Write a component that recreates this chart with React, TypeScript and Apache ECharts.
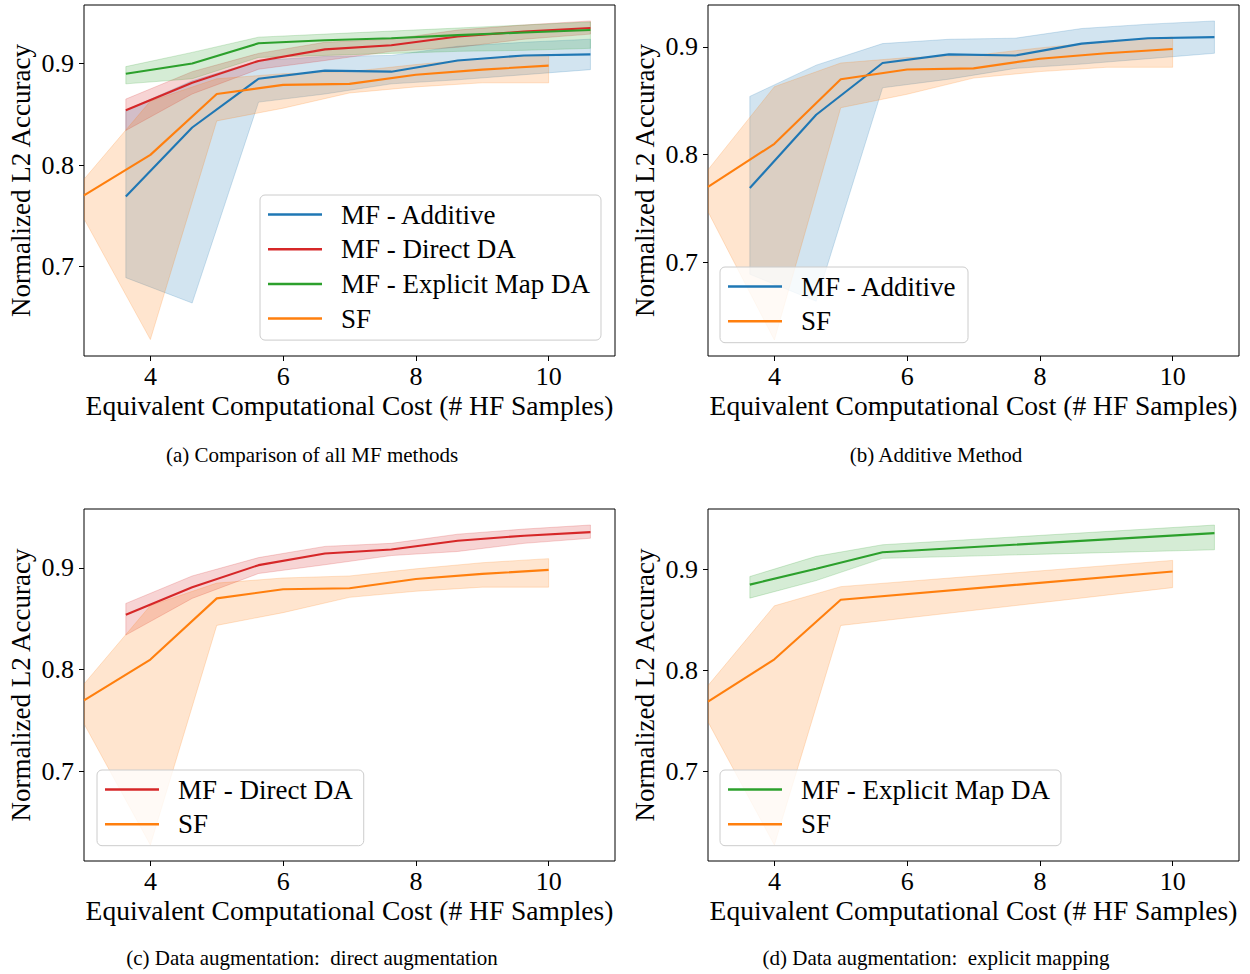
import React, { useEffect, useRef } from "react";
import * as echarts from "echarts";

// ---------- data ----------
const sfX = [3, 4, 5, 6, 7, 8, 9, 10];
const sfMean = [0.770, 0.810, 0.870, 0.879, 0.880, 0.889, 0.894, 0.898];
const sfUpper = [0.786, 0.863, 0.885, 0.890, 0.892, 0.899, 0.905, 0.909];
const sfLower = [0.747, 0.628, 0.8435, 0.856, 0.871, 0.877, 0.881, 0.881];

const mfX = [3.63, 4.63, 5.63, 6.63, 7.63, 8.63, 9.63, 10.63];
const addMean = [0.769, 0.837, 0.885, 0.893, 0.892, 0.903, 0.908, 0.909];
const addUpper = [0.854, 0.883, 0.903, 0.907, 0.908, 0.917, 0.921, 0.924];
const addLower = [0.689, 0.664, 0.862, 0.870, 0.880, 0.884, 0.889, 0.894];

const dirMean = [0.854, 0.881, 0.9026, 0.914, 0.918, 0.9266, 0.9315, 0.935];
const dirUpper = [0.865, 0.892, 0.910, 0.921, 0.924, 0.933, 0.938, 0.942];
const dirLower = [0.834, 0.870, 0.8944, 0.903, 0.912, 0.916, 0.924, 0.929];

const expMean = [0.890, 0.900, 0.920, 0.923, 0.925, 0.928, 0.9306, 0.933];
const expUpper = [0.897, 0.911, 0.926, 0.929, 0.932, 0.935, 0.938, 0.941];
const expLower = [0.880, 0.885, 0.906, 0.908, 0.910, 0.912, 0.913, 0.915];

// panel (d) runs
const mfXd = [3.63, 4.63, 5.63, 10.63];
const expMeanD = [0.885, 0.9007, 0.917, 0.936];
const expUpperD = [0.893, 0.913, 0.9245, 0.944];
const expLowerD = [0.8716, 0.889, 0.911, 0.9195];

const sfXd = [3, 4, 5, 10];
const sfMeanD = [0.769, 0.811, 0.870, 0.898];
const sfUpperD = [0.785, 0.864, 0.883, 0.909];
const sfLowerD = [0.749, 0.627, 0.8445, 0.882];

const xTicks = [4, 6, 8, 10];
const yTicks = [0.7, 0.8, 0.9];
const yRanges = [
  [0.6118, 0.9577],
  [0.6132, 0.9388],
  [0.6123, 0.9577],
  [0.6112, 0.9599],
];
const captions = [
  "(a) Comparison of all MF methods",
  "(b) Additive Method",
  "(c) Data augmentation:  direct augmentation",
  "(d) Data augmentation:  explicit mapping",
];

const NAME_ADD = "MF - Additive";
const NAME_DIR = "MF - Direct DA";
const NAME_EXP = "MF - Explicit Map DA";
const NAME_SF = "SF";

const C_BLUE = "#1f77b4";
const C_ORANGE = "#ff7f0e";
const C_GREEN = "#2ca02c";
const C_RED = "#d62728";

const FONT = "'Liberation Serif', 'Times New Roman', serif";

function rgba(hex: string, a: number) {
  const r = parseInt(hex.slice(1, 3), 16);
  const g = parseInt(hex.slice(3, 5), 16);
  const b = parseInt(hex.slice(5, 7), 16);
  return `rgba(${r},${g},${b},${a})`;
}

function band(xs: number[], lo: number[], hi: number[], color: string, gi: number): any {
  return {
    type: "custom",
    name: "band",
    xAxisIndex: gi,
    yAxisIndex: gi,
    silent: true,
    clip: true,
    z: 1,
    data: xs.map((x, i) => [x, lo[i], hi[i]]),
    encode: { x: 0, y: [1, 2] },
    renderItem: (params: any, api: any) => {
      if (params.dataIndex !== 0) return null;
      const pts: number[][] = [];
      for (let i = 0; i < xs.length; i++) pts.push(api.coord([xs[i], hi[i]]));
      for (let i = xs.length - 1; i >= 0; i--) pts.push(api.coord([xs[i], lo[i]]));
      return {
        type: "polygon",
        shape: { points: pts },
        style: { fill: rgba(color, 0.2), stroke: rgba(color, 0.2), lineWidth: 1 },
      };
    },
  };
}

function line(name: string, xs: number[], ys: number[], color: string, gi: number): any {
  return {
    type: "line",
    name,
    xAxisIndex: gi,
    yAxisIndex: gi,
    data: xs.map((x, i) => [x, ys[i]]),
    showSymbol: false,
    symbol: "none",
    color,
    lineStyle: { color, width: 2.1 },
    z: 3,
  };
}

const grids = [
  { left: 84, top: 5, width: 531, height: 351 },
  { left: 708, top: 5, width: 531, height: 351 },
  { left: 84, top: 509, width: 531, height: 352 },
  { left: 708, top: 509, width: 531, height: 352 },
];

function legend(left: number, top: number, names: string[]): any {
  return {
    left,
    top,
    orient: "vertical",
    data: names,
    icon: "rect",
    itemWidth: 54,
    itemHeight: 2.5,
    itemGap: 7.7,
    selectedMode: false,
    backgroundColor: "rgba(255,255,255,0.8)",
    borderColor: "#cccccc",
    borderWidth: 1,
    borderRadius: 5,
    padding: [6, 11, 8, 8],
    textStyle: {
      fontFamily: FONT,
      fontSize: 27,
      lineHeight: 26,
      color: "#000",
      padding: [0, 0, 0, 14],
    },
  };
}

export default function App() {
  const ref = useRef<HTMLDivElement>(null);
  useEffect(() => {
    if (!ref.current) return;
    document.body.style.margin = "0";
    const chart = echarts.init(ref.current, undefined, { renderer: "svg" });
    const option: any = {
      animation: false,
      backgroundColor: "#ffffff",
      grid: grids.map((g) => ({
        ...g,
        show: true,
        borderColor: "#000",
        borderWidth: 1,
        backgroundColor: "transparent",
        containLabel: false,
      })),
      xAxis: grids.map((_, i) => ({
        type: "value",
        gridIndex: i,
        min: 3,
        max: 11,
        name: "Equivalent Computational Cost (# HF Samples)",
        nameLocation: "middle",
        nameGap: 35,
        nameTextStyle: { fontFamily: FONT, fontSize: 27.5, color: "#000" },
        axisLine: { show: false },
        axisTick: { show: true, length: 5, lineStyle: { color: "#000", width: 1 }, customValues: xTicks },
        axisLabel: { show: true, margin: 7, fontFamily: FONT, fontSize: 26, color: "#000", customValues: xTicks },
        splitLine: { show: false },
      })),
      yAxis: grids.map((_, i) => ({
        type: "value",
        gridIndex: i,
        min: yRanges[i][0],
        max: yRanges[i][1],
        name: "Normalized L2 Accuracy",
        nameLocation: "middle",
        nameGap: 50,
        nameTextStyle: { fontFamily: FONT, fontSize: 27, color: "#000" },
        axisLine: { show: false },
        axisTick: { show: true, length: 5, lineStyle: { color: "#000", width: 1 }, customValues: yTicks },
        axisLabel: {
          show: true,
          margin: 10,
          fontFamily: FONT,
          fontSize: 26,
          color: "#000",
          customValues: yTicks,
          formatter: (v: number) => v.toFixed(1),
        },
        splitLine: { show: false },
      })),
      legend: [
        legend(260, 195, [NAME_ADD, NAME_DIR, NAME_EXP, NAME_SF]),
        legend(720, 267, [NAME_ADD, NAME_SF]),
        legend(97, 770, [NAME_DIR, NAME_SF]),
        legend(720, 770, [NAME_EXP, NAME_SF]),
      ],
      series: [
        // (a)
        band(mfX, addLower, addUpper, C_BLUE, 0),
        line(NAME_ADD, mfX, addMean, C_BLUE, 0),
        band(mfX, dirLower, dirUpper, C_RED, 0),
        line(NAME_DIR, mfX, dirMean, C_RED, 0),
        band(mfX, expLower, expUpper, C_GREEN, 0),
        line(NAME_EXP, mfX, expMean, C_GREEN, 0),
        band(sfX, sfLower, sfUpper, C_ORANGE, 0),
        line(NAME_SF, sfX, sfMean, C_ORANGE, 0),
        // (b)
        band(mfX, addLower, addUpper, C_BLUE, 1),
        line(NAME_ADD, mfX, addMean, C_BLUE, 1),
        band(sfX, sfLower, sfUpper, C_ORANGE, 1),
        line(NAME_SF, sfX, sfMean, C_ORANGE, 1),
        // (c)
        band(mfX, dirLower, dirUpper, C_RED, 2),
        line(NAME_DIR, mfX, dirMean, C_RED, 2),
        band(sfX, sfLower, sfUpper, C_ORANGE, 2),
        line(NAME_SF, sfX, sfMean, C_ORANGE, 2),
        // (d)
        band(mfXd, expLowerD, expUpperD, C_GREEN, 3),
        line(NAME_EXP, mfXd, expMeanD, C_GREEN, 3),
        band(sfXd, sfLowerD, sfUpperD, C_ORANGE, 3),
        line(NAME_SF, sfXd, sfMeanD, C_ORANGE, 3),
      ],
      graphic: [
        { x: 312, y: 455 },
        { x: 936, y: 455 },
        { x: 312, y: 958 },
        { x: 936, y: 958 },
      ].map((p, i) => ({
        type: "text",
        x: p.x,
        y: p.y,
        style: {
          text: captions[i],
          fontFamily: FONT,
          fontSize: 21,
          fill: "#000",
          textAlign: "center",
          textVerticalAlign: "middle",
        },
      })),
    };
    chart.setOption(option);
    return () => chart.dispose();
  }, []);
  return (
    <div
      ref={ref}
      style={{ position: "absolute", left: 0, top: 0, width: 1250, height: 974, background: "#fff" }}
    />
  );
}
